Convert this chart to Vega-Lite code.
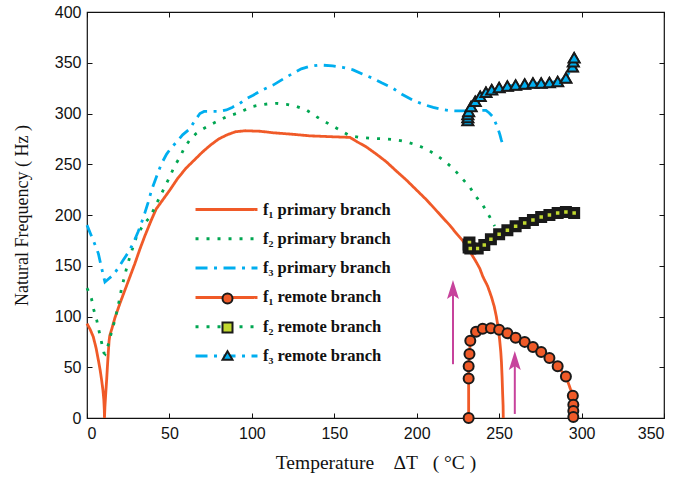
{
  "$schema": "https://vega.github.io/schema/vega-lite/v6.json",
  "width": 577,
  "height": 406,
  "autosize": {"type": "none"},
  "padding": {"left": 87, "top": 12, "right": 17, "bottom": 61},
  "background": "white",
  "config": {
    "view": {"stroke": "#111", "strokeWidth": 1.2},
    "axis": {"domain": false, "grid": false, "ticks": true, "tickColor": "#111", "tickSize": -5, "tickWidth": 1,
      "labelFont": "Liberation Sans", "labelFontSize": 16, "labelColor": "#111",
      "titleFont": "Liberation Serif", "titleFontSize": 18, "titleFontWeight": "normal", "titleColor": "#111"}
  },
  "datasets": {
    "curves": [
      {"s":"p1","T":0,"F":93},{"s":"p1","T":2,"F":87},{"s":"p1","T":3.8,"F":80},{"s":"p1","T":5.5,"F":69},{"s":"p1","T":6.9,"F":57},{"s":"p1","T":8,"F":47},{"s":"p1","T":8.9,"F":37},{"s":"p1","T":9.7,"F":27},{"s":"p1","T":10.2,"F":18},{"s":"p1","T":10.5,"F":8},{"s":"p1","T":10.6,"F":0},{"s":"p1","T":10.9,"F":12},{"s":"p1","T":11.4,"F":25},{"s":"p1","T":11.9,"F":37},{"s":"p1","T":12.4,"F":51},{"s":"p1","T":12.9,"F":64},{"s":"p1","T":13.4,"F":76},{"s":"p1","T":13.8,"F":81},{"s":"p1","T":14.9,"F":87},{"s":"p1","T":17,"F":99},{"s":"p1","T":20,"F":113},{"s":"p1","T":23,"F":126},{"s":"p1","T":26,"F":139},{"s":"p1","T":29,"F":152},{"s":"p1","T":32,"F":166},{"s":"p1","T":35,"F":179},{"s":"p1","T":39,"F":195},{"s":"p1","T":42,"F":206},{"s":"p1","T":46,"F":215},{"s":"p1","T":50,"F":224},{"s":"p1","T":55,"F":236},{"s":"p1","T":60,"F":246},{"s":"p1","T":65,"F":254},{"s":"p1","T":70,"F":262},{"s":"p1","T":75,"F":269},{"s":"p1","T":80,"F":275},{"s":"p1","T":85,"F":279},{"s":"p1","T":90,"F":282},{"s":"p1","T":96,"F":283},{"s":"p1","T":105,"F":282.5},{"s":"p1","T":113,"F":281},{"s":"p1","T":125,"F":279.5},{"s":"p1","T":135,"F":278},{"s":"p1","T":150,"F":277},{"s":"p1","T":159.5,"F":276.5},{"s":"p1","T":164,"F":272},{"s":"p1","T":169.5,"F":267},{"s":"p1","T":175.5,"F":260},{"s":"p1","T":181.5,"F":252.5},{"s":"p1","T":187.5,"F":243.5},{"s":"p1","T":193.7,"F":234.5},{"s":"p1","T":199,"F":226},{"s":"p1","T":205.9,"F":215},{"s":"p1","T":211,"F":206},{"s":"p1","T":216,"F":197},{"s":"p1","T":220,"F":190},{"s":"p1","T":224,"F":182},{"s":"p1","T":228,"F":174.5},{"s":"p1","T":230,"F":169.5},{"s":"p1","T":233,"F":162},{"s":"p1","T":236,"F":154},{"s":"p1","T":238.2,"F":147.5},{"s":"p1","T":240.2,"F":139},{"s":"p1","T":243,"F":130},{"s":"p1","T":245.3,"F":119.5},{"s":"p1","T":247,"F":110},{"s":"p1","T":248.3,"F":100},{"s":"p1","T":249.5,"F":88},{"s":"p1","T":250.3,"F":77},{"s":"p1","T":251,"F":65},{"s":"p1","T":251.4,"F":55},{"s":"p1","T":251.8,"F":40},{"s":"p1","T":252.1,"F":25},{"s":"p1","T":252.4,"F":12},{"s":"p1","T":252.5,"F":0},
      {"s":"p2","T":0,"F":128},{"s":"p2","T":1.5,"F":123},{"s":"p2","T":2.8,"F":117},{"s":"p2","T":4.2,"F":106},{"s":"p2","T":5.9,"F":96.5},{"s":"p2","T":7.4,"F":85},{"s":"p2","T":8.9,"F":74},{"s":"p2","T":10.3,"F":64},{"s":"p2","T":11,"F":63},{"s":"p2","T":12,"F":68},{"s":"p2","T":13.3,"F":74},{"s":"p2","T":14.9,"F":85},{"s":"p2","T":17,"F":97},{"s":"p2","T":19.6,"F":116},{"s":"p2","T":21,"F":128},{"s":"p2","T":24,"F":147.5},{"s":"p2","T":26,"F":159},{"s":"p2","T":30,"F":178.6},{"s":"p2","T":34,"F":190},{"s":"p2","T":38.2,"F":198},{"s":"p2","T":41,"F":207},{"s":"p2","T":44.2,"F":218},{"s":"p2","T":47.3,"F":228},{"s":"p2","T":50.3,"F":238},{"s":"p2","T":53,"F":248},{"s":"p2","T":56.4,"F":257},{"s":"p2","T":59,"F":266},{"s":"p2","T":62.4,"F":274},{"s":"p2","T":66,"F":280},{"s":"p2","T":70.5,"F":285},{"s":"p2","T":75,"F":289},{"s":"p2","T":80.6,"F":293.6},{"s":"p2","T":85,"F":297},{"s":"p2","T":90.7,"F":300},{"s":"p2","T":95,"F":303},{"s":"p2","T":100.8,"F":307},{"s":"p2","T":105,"F":308.5},{"s":"p2","T":110,"F":309.5},{"s":"p2","T":115,"F":310},{"s":"p2","T":121,"F":309},{"s":"p2","T":127,"F":307},{"s":"p2","T":133,"F":303.5},{"s":"p2","T":141,"F":295},{"s":"p2","T":147,"F":289.5},{"s":"p2","T":153,"F":284},{"s":"p2","T":159.4,"F":278},{"s":"p2","T":165,"F":276.5},{"s":"p2","T":173.5,"F":275.5},{"s":"p2","T":180,"F":275},{"s":"p2","T":187.7,"F":274},{"s":"p2","T":194,"F":272},{"s":"p2","T":199.8,"F":269},{"s":"p2","T":206,"F":265},{"s":"p2","T":211.9,"F":259},{"s":"p2","T":217,"F":253},{"s":"p2","T":222,"F":246},{"s":"p2","T":227,"F":237},{"s":"p2","T":232,"F":228},{"s":"p2","T":236,"F":218},{"s":"p2","T":240,"F":210},{"s":"p2","T":244,"F":199},{"s":"p2","T":247.3,"F":189},
      {"s":"p3","T":0,"F":190},{"s":"p3","T":2,"F":182},{"s":"p3","T":3.8,"F":175},{"s":"p3","T":5.5,"F":168},{"s":"p3","T":6.9,"F":162},{"s":"p3","T":8,"F":154},{"s":"p3","T":8.9,"F":147.5},{"s":"p3","T":10,"F":140},{"s":"p3","T":10.9,"F":134},{"s":"p3","T":13,"F":137},{"s":"p3","T":16,"F":141},{"s":"p3","T":19,"F":148},{"s":"p3","T":22,"F":155.7},{"s":"p3","T":25,"F":163},{"s":"p3","T":28,"F":172},{"s":"p3","T":31,"F":183.5},{"s":"p3","T":33,"F":192},{"s":"p3","T":35,"F":201.6},{"s":"p3","T":37,"F":212},{"s":"p3","T":39.2,"F":224.6},{"s":"p3","T":42.2,"F":238},{"s":"p3","T":45,"F":250},{"s":"p3","T":48.3,"F":260},{"s":"p3","T":51,"F":266},{"s":"p3","T":54.4,"F":272},{"s":"p3","T":58,"F":279},{"s":"p3","T":62.4,"F":285},{"s":"p3","T":65,"F":292},{"s":"p3","T":68.5,"F":300},{"s":"p3","T":71,"F":302},{"s":"p3","T":75.6,"F":302},{"s":"p3","T":80,"F":302},{"s":"p3","T":84.6,"F":303.5},{"s":"p3","T":88,"F":306},{"s":"p3","T":92.7,"F":310},{"s":"p3","T":96,"F":314},{"s":"p3","T":100.8,"F":318},{"s":"p3","T":106,"F":323},{"s":"p3","T":112.9,"F":328},{"s":"p3","T":119,"F":334},{"s":"p3","T":125,"F":339.6},{"s":"p3","T":130,"F":344},{"s":"p3","T":135,"F":346.5},{"s":"p3","T":141,"F":347.8},{"s":"p3","T":149,"F":347},{"s":"p3","T":155,"F":345.5},{"s":"p3","T":161.4,"F":343},{"s":"p3","T":167,"F":339},{"s":"p3","T":173.5,"F":334.6},{"s":"p3","T":179,"F":330},{"s":"p3","T":185.6,"F":324.8},{"s":"p3","T":191,"F":319},{"s":"p3","T":197.8,"F":313},{"s":"p3","T":204,"F":309},{"s":"p3","T":210,"F":306},{"s":"p3","T":215,"F":304},{"s":"p3","T":220,"F":302.8},{"s":"p3","T":225,"F":302.5},{"s":"p3","T":230,"F":302.5},{"s":"p3","T":235,"F":303},{"s":"p3","T":240,"F":303},{"s":"p3","T":242,"F":303},{"s":"p3","T":244,"F":300.5},{"s":"p3","T":246,"F":297},{"s":"p3","T":247.5,"F":292},{"s":"p3","T":249.3,"F":285},{"s":"p3","T":250.5,"F":279},{"s":"p3","T":251.3,"F":274},{"s":"p3","T":252.3,"F":269},
      {"s":"r1","mk":"r1","T":231.5,"F":0},{"s":"r1","mk":"r1","T":231.5,"F":39},{"s":"r1","mk":"r1","T":231.5,"F":51},{"s":"r1","mk":"r1","T":232,"F":63},{"s":"r1","mk":"r1","T":232.5,"F":76},{"s":"r1","mk":"r1","T":236,"F":85},{"s":"r1","mk":"r1","T":240,"F":88},{"s":"r1","mk":"r1","T":245,"F":88.5},{"s":"r1","mk":"r1","T":250,"F":87},{"s":"r1","mk":"r1","T":255,"F":83.5},{"s":"r1","mk":"r1","T":260,"F":79},{"s":"r1","mk":"r1","T":265.5,"F":75},{"s":"r1","mk":"r1","T":270.5,"F":70},{"s":"r1","mk":"r1","T":275.5,"F":65},{"s":"r1","mk":"r1","T":280.5,"F":59},{"s":"r1","mk":"r1","T":285.5,"F":51},{"s":"r1","mk":"r1","T":290.5,"F":41},{"s":"r1","mk":"r1","T":294.7,"F":22},{"s":"r1","mk":"r1","T":295,"F":13},{"s":"r1","mk":"r1","T":295,"F":7},{"s":"r1","mk":"r1","T":295,"F":1},
      {"s":"r2","mk":"r2","T":231.5,"F":168},{"s":"r2","mk":"r2","T":231.5,"F":171},{"s":"r2","mk":"r2","T":232,"F":173},{"s":"r2","mk":"r2","T":232.5,"F":167},{"s":"r2","mk":"r2","T":237,"F":167},{"s":"r2","mk":"r2","T":241,"F":170.5},{"s":"r2","mk":"r2","T":245,"F":176},{"s":"r2","mk":"r2","T":250,"F":181},{"s":"r2","mk":"r2","T":255,"F":185},{"s":"r2","mk":"r2","T":260,"F":189},{"s":"r2","mk":"r2","T":265.5,"F":192},{"s":"r2","mk":"r2","T":270.5,"F":195},{"s":"r2","mk":"r2","T":275.5,"F":198},{"s":"r2","mk":"r2","T":280.5,"F":200},{"s":"r2","mk":"r2","T":285.5,"F":202},{"s":"r2","mk":"r2","T":290.5,"F":203},{"s":"r2","mk":"r2","T":295.5,"F":202},
      {"s":"r3","mk":"r3","T":231,"F":293},{"s":"r3","mk":"r3","T":231,"F":296},{"s":"r3","mk":"r3","T":231,"F":299},{"s":"r3","mk":"r3","T":231.5,"F":302},{"s":"r3","mk":"r3","T":233,"F":307},{"s":"r3","mk":"r3","T":235.5,"F":312},{"s":"r3","mk":"r3","T":238.5,"F":317},{"s":"r3","mk":"r3","T":242,"F":321},{"s":"r3","mk":"r3","T":245.5,"F":323.5},{"s":"r3","mk":"r3","T":250,"F":325.5},{"s":"r3","mk":"r3","T":255,"F":327},{"s":"r3","mk":"r3","T":260,"F":328},{"s":"r3","mk":"r3","T":265.5,"F":329},{"s":"r3","mk":"r3","T":270.5,"F":330},{"s":"r3","mk":"r3","T":275.5,"F":330},{"s":"r3","mk":"r3","T":280.5,"F":330.5},{"s":"r3","mk":"r3","T":285.5,"F":331.5},{"s":"r3","mk":"r3","T":290.5,"F":335},{"s":"r3","mk":"r3","T":294.5,"F":346},{"s":"r3","mk":"r3","T":295,"F":351},{"s":"r3","mk":"r3","T":295.5,"F":355}
    ],
    "arrows": [
      {"T": 222, "y1": 53, "ye": 126, "tip": 136},
      {"T": 259.5, "y1": 4, "ye": 56, "tip": 66}
    ]
  },
  "layer": [
    {
      "data": {"name": "curves"},
      "mark": {"type": "line", "strokeWidth": 2.8, "strokeCap": "butt"},
      "encoding": {
        "x": {"field": "T", "type": "quantitative", "scale": {"domain": [0, 350], "nice": false},
          "axis": {"orient": "bottom", "values": [0, 50, 100, 150, 200, 250, 300, 350], "labelPadding": 12,
            "title": "Temperature\u00a0\u00a0\u00a0\u00a0ΔT\u00a0\u00a0\u00a0(\u00a0°C\u00a0)", "titleFontSize": 19.5, "titleX": 288.5, "titleY": 35, "titleBaseline": "top", "titleAlign": "center"}},
        "y": {"field": "F", "type": "quantitative", "scale": {"domain": [0, 400], "nice": false},
          "axis": {"orient": "left", "values": [0, 50, 100, 150, 200, 250, 300, 350, 400], "labelPadding": 11,
            "title": "Natural Frequency ( Hz )", "titleX": -56, "titleY": 203, "titleAngle": -90, "titleBaseline": "bottom", "titleAlign": "center"}},
        "color": {"field": "s", "type": "nominal",
          "scale": {"domain": ["p1", "p2", "p3", "r1", "r2", "r3"], "range": ["#F05A28", "#00A651", "#00AEEF", "#F05A28", "#00A651", "#00AEEF"]},
          "legend": {"orient": "none", "legendX": 130, "legendY": 188, "title": null, "symbolType": "M-4,0H4", "symbolSize": 240, "symbolStrokeWidth": 3,
            "labelFont": "Liberation Serif", "labelFontSize": 16.5, "labelFontWeight": "bold", "labelColor": "#111", "labelOffset": 27, "rowPadding": 11.3, "padding": 0,
            "labelExpr": "datum.label=='p1'?'f₁ primary branch':datum.label=='p2'?'f₂ primary branch':datum.label=='p3'?'f₃ primary branch':datum.label=='r1'?'f₁ remote branch':datum.label=='r2'?'f₂ remote branch':'f₃ remote branch'"}},
        "strokeDash": {"field": "s", "type": "nominal",
          "scale": {"domain": ["p1", "p2", "p3", "r1", "r2", "r3"], "range": [[1, 0], [3, 8], [12, 6.5, 3, 6.5], [1, 0], [3, 8], [12, 6.5, 3, 6.5]]},
          "legend": {"orient": "none", "legendX": 130, "legendY": 188, "title": null, "symbolType": "M-4,0H4", "symbolSize": 240, "symbolStrokeWidth": 3,
            "labelFont": "Liberation Serif", "labelFontSize": 16.5, "labelFontWeight": "bold", "labelColor": "#111", "labelOffset": 27, "rowPadding": 11.3, "padding": 0,
            "labelExpr": "datum.label=='p1'?'f₁ primary branch':datum.label=='p2'?'f₂ primary branch':datum.label=='p3'?'f₃ primary branch':datum.label=='r1'?'f₁ remote branch':datum.label=='r2'?'f₂ remote branch':'f₃ remote branch'"}},
        "order": {"value": null}
      }
    },
    {
      "data": {"name": "curves"},
      "transform": [{"filter": "isValid(datum.mk)"}],
      "mark": {"type": "point", "filled": true, "strokeWidth": 2, "size": 100, "opacity": 1},
      "encoding": {
        "x": {"field": "T", "type": "quantitative", "axis": null},
        "y": {"field": "F", "type": "quantitative", "axis": null},
        "shape": {"field": "mk", "type": "nominal",
          "scale": {"domain": ["r1", "r2", "r3"], "range": ["circle", "square", "triangle-up"]},
          "legend": {"orient": "none", "legendX": 133, "legendY": 279, "title": null, "labelColor": "transparent", "symbolSize": 100, "symbolStrokeWidth": 2, "rowPadding": 10, "padding": 0, "labelFontSize": 15}},
        "fill": {"field": "mk", "type": "nominal",
          "scale": {"domain": ["r1", "r2", "r3"], "range": ["#F05A28", "#C1D82F", "#00AEEF"]},
          "legend": {"orient": "none", "legendX": 133, "legendY": 279, "title": null, "labelColor": "transparent", "symbolSize": 100, "symbolStrokeWidth": 2, "rowPadding": 10, "padding": 0, "labelFontSize": 15}},
        "stroke": {"field": "mk", "type": "nominal",
          "scale": {"domain": ["r1", "r2", "r3"], "range": ["#1a1a1a", "#1a1a1a", "#1a1a1a"]},
          "legend": {"orient": "none", "legendX": 133, "legendY": 279, "title": null, "labelColor": "transparent", "symbolSize": 100, "symbolStrokeWidth": 2, "rowPadding": 10, "padding": 0, "labelFontSize": 15}}
      }
    },
    {
      "data": {"name": "curves"},
      "transform": [{"filter": "datum.mk == 'r2'"}],
      "mark": {"type": "point", "filled": true, "shape": "square", "fill": "#C1D82F", "stroke": "#1a1a1a", "strokeWidth": 3.2, "size": 45, "opacity": 1},
      "encoding": {
        "x": {"field": "T", "type": "quantitative", "axis": null},
        "y": {"field": "F", "type": "quantitative", "axis": null}
      }
    },
    {
      "data": {"name": "curves"},
      "transform": [{"filter": "datum.mk == 'r3'"}],
      "mark": {"type": "point", "filled": true, "shape": "triangle-up", "fill": "#00AEEF", "stroke": "#1a1a1a", "strokeWidth": 2, "size": 120, "opacity": 1},
      "encoding": {
        "x": {"field": "T", "type": "quantitative", "axis": null},
        "y": {"field": "F", "type": "quantitative", "axis": null}
      }
    },
    {
      "data": {"name": "arrows"},
      "mark": {"type": "rule", "color": "#C7439C", "strokeWidth": 2},
      "encoding": {
        "x": {"field": "T", "type": "quantitative", "axis": {"orient": "top", "values": [0, 50, 100, 150, 200, 250, 300, 350], "labels": false, "title": null}},
        "y": {"field": "y1", "type": "quantitative", "axis": {"orient": "right", "values": [0, 50, 100, 150, 200, 250, 300, 350, 400], "labels": false, "title": null}},
        "y2": {"field": "ye"}
      }
    },
    {
      "data": {"name": "arrows"},
      "mark": {"type": "point", "filled": true, "color": "#C7439C", "opacity": 1, "size": 1100, "shape": "M0,0L0.36,1.15L0,0.9L-0.36,1.15Z"},
      "encoding": {
        "x": {"field": "T", "type": "quantitative", "axis": null},
        "y": {"field": "tip", "type": "quantitative", "axis": null}
      }
    }
  ],
  "resolve": {"axis": {"x": "independent", "y": "independent"}}
}
